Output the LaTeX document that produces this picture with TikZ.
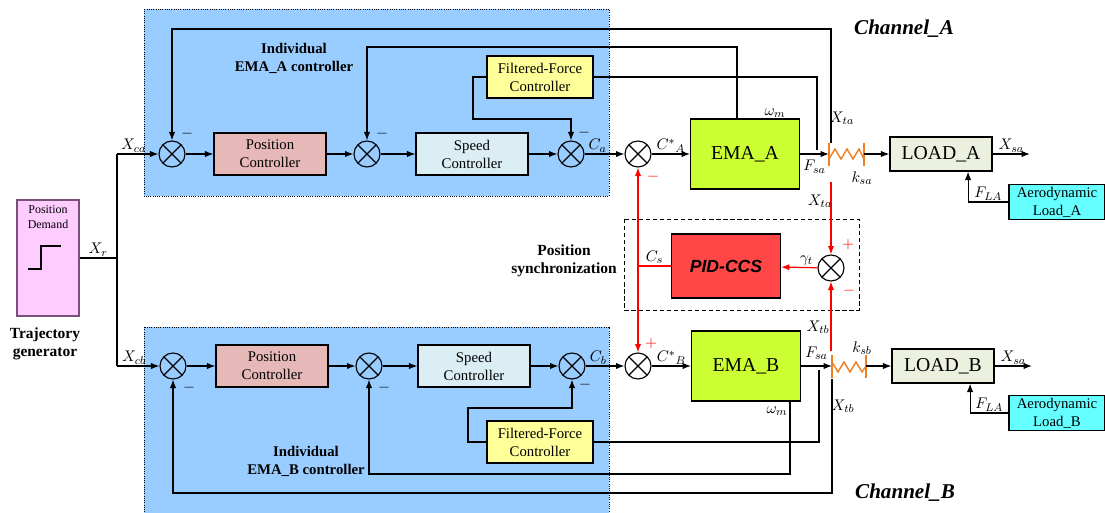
\documentclass[tikz,border=0pt]{standalone}
\usepackage{fontspec}
\setmainfont{Liberation Serif}
\newfontfamily\pidfont{Liberation Sans}
\usepackage{xcolor}
\usepackage{tikz}
\usetikzlibrary{arrows.meta, positioning}

\definecolor{ctrlblue}{RGB}{153,204,255}
\definecolor{posred}{RGB}{230,184,183}
\definecolor{spdblue}{RGB}{218,238,243}
\definecolor{ffyellow}{RGB}{255,255,153}
\definecolor{emagreen}{RGB}{204,255,51}
\definecolor{loadgreen}{RGB}{235,241,222}
\definecolor{aerocyan}{RGB}{102,255,255}
\definecolor{pidred}{RGB}{255,71,71}
\definecolor{demandpink}{RGB}{255,204,255}
\definecolor{demandedge}{RGB}{120,80,120}
\definecolor{springorange}{RGB}{240,127,31}

\tikzset{
  blk/.style={draw, align=center, minimum width=2.8cm, minimum height=1.05cm,
    inner sep=1pt, font=\fontsize{10.5}{12.8}\selectfont},
  sum/.style={circle, draw, minimum size=0.65cm, inner sep=0pt,
    path picture={\draw (path picture bounding box.north west) -- (path picture bounding box.south east)
      (path picture bounding box.south west) -- (path picture bounding box.north east);}},
  sig/.style={font=\fontsize{11}{13}\selectfont, inner sep=1pt},
  sgn/.style={font=\fontsize{11}{13}\selectfont, inner sep=0pt},
  ttl/.style={font=\bfseries\fontsize{10.5}{12.8}\selectfont, align=center},
  spr/.style={springorange, line width=1pt},
  fb/.style={red, line width=0.9pt},
}

\begin{document}
\begin{tikzpicture}[x=0.025cm, y=-0.025cm, line width=0.8pt, >={Latex[length=6pt,width=4.5pt]}]
  \useasboundingbox (0,0) rectangle (1105,513);

  % controller areas
  \draw[densely dotted, fill=ctrlblue, line width=0.6pt] (144,9) rectangle (609,196);
  \draw[densely dotted, fill=ctrlblue, line width=0.6pt] (144,327) rectangle (609,513);
  \draw[densely dashed, line width=0.6pt] (624,219) rectangle (859,310);

  % trajectory generator
  \node[draw=demandedge, fill=demandpink, minimum width=1.55cm, minimum height=2.9cm] (pd) at (48,258) {};
  \node[below=1pt of pd.north, align=center, font=\fontsize{8.5}{10.5}\selectfont] (pdt) {Position\\Demand};
  \draw (28,269) -- (41,269) -- (41,246) -- (61,246);
  \node[ttl, font=\bfseries\fontsize{11}{13}\selectfont] (tg) at (45,344) {Trajectory\\generator};

  % channel A
  \node[sum] (sA1) at (172,154) {};
  \node[blk, fill=posred] (pcA) at (270,154) {Position\\Controller};
  \node[sum] (sA2) at (367,154) {};
  \node[blk, fill=spdblue] (scA) at (472,154) {Speed\\Controller};
  \node[sum] (sA3) at (571,154) {};
  \node[blk, fill=ffyellow, minimum width=2.65cm] (ffA) at (540,77) {Filtered-Force\\Controller};
  \node[sum] (sA4) at (638,154) {};
  \node[blk, fill=emagreen, minimum width=2.72cm, minimum height=1.75cm, font=\fontsize{14}{16}\selectfont] (emaA) at (745,154) {EMA\_A};
  \node[blk, fill=loadgreen, minimum width=2.55cm, minimum height=0.85cm, font=\fontsize{14}{16}\selectfont] (loadA) at (941,154) {LOAD\_A};
  \node[blk, fill=aerocyan, minimum width=2.4cm, minimum height=0.875cm] (aeroA) at (1057,202) {Aerodynamic\\Load\_A};
  \node[ttl] (indA) at (294,58) {Individual\\EMA\_A controller};
  \node[font=\bfseries\itshape\fontsize{15}{17}\selectfont] (chA) at (904,29) {Channel\_A};

  % channel B
  \node[sum] (sB1) at (173,366) {};
  \node[blk, fill=posred] (pcB) at (272,366) {Position\\Controller};
  \node[sum] (sB2) at (369,366) {};
  \node[blk, fill=spdblue] (scB) at (474,366) {Speed\\Controller};
  \node[sum] (sB3) at (572,366) {};
  \node[blk, fill=ffyellow, minimum width=2.65cm] (ffB) at (540,442) {Filtered-Force\\Controller};
  \node[sum] (sB4) at (638,366) {};
  \node[blk, fill=emagreen, minimum width=2.72cm, minimum height=1.75cm, font=\fontsize{14}{16}\selectfont] (emaB) at (746,366) {EMA\_B};
  \node[blk, fill=loadgreen, minimum width=2.55cm, minimum height=0.85cm, font=\fontsize{14}{16}\selectfont] (loadB) at (943,366) {LOAD\_B};
  \node[blk, fill=aerocyan, minimum width=2.4cm, minimum height=0.875cm] (aeroB) at (1057,413) {Aerodynamic\\Load\_B};
  \node[ttl] (indB) at (306,461) {Individual\\EMA\_B controller};
  \node[font=\bfseries\itshape\fontsize{15}{17}\selectfont] (chB) at (905,493) {Channel\_B};

  % synchronization
  \node[sum] (sG) at (831,268) {};
  \node[draw, fill=pidred, minimum width=2.72cm, minimum height=1.6cm,
    font=\pidfont\bfseries\itshape\fontsize{12.5}{14}\selectfont] (pid) at (726,266) {PID-CCS};
  \node[ttl, font=\bfseries\fontsize{11}{12.8}\selectfont] (sync) at (564,261) {Position\\synchronization};

  % springs
  \coordinate (sprA) at (829,154);
  \coordinate (sprAr) at (864,154);
  \coordinate (sprB) at (832,366);
  \coordinate (sprBr) at (866,366);
  \draw[spr] (829,143) -- (829,166) (864,143) -- (864,166);
  \draw[spr] (829,159) -- (835,149) -- (841,159) -- (847,149) -- (853,159) -- (859,149) -- (864,159);
  \draw[spr] (832,355) -- (832,378) (866,355) -- (866,378);
  \draw[spr] (832,362) -- (838,372) -- (844,362) -- (850,372) -- (856,362) -- (862,372) -- (866,366);

  % reference input
  \coordinate (jR) at (117,258);
  \coordinate (jA) at (117,154);
  \coordinate (jB) at (117,366);
  \draw (pd.east) -- (jR) node[sig, midway, above] (lXr) {$X_r$};
  \draw (jA) -- (jB);
  \draw[->] (jA) -- (sA1) node[sig, pos=0.4, above] (lXca) {$X_{ca}$};
  \draw[->] (jB) -- (sB1) node[sig, pos=0.4, above] (lXcb) {$X_{cb}$};

  % forward path A
  \draw[->] (sA1) -- (pcA);
  \draw[->] (pcA) -- (sA2);
  \draw[->] (sA2) -- (scA);
  \draw[->] (scA) -- (sA3);
  \draw[->] (sA3) -- (sA4) node[sig, pos=0.33, above] (lCa) {$C_a$};
  \draw[->] (sA4) -- (emaA) node[sig, midway, above] (lCsA) {$C^{*}{}_{A}$};
  \draw[->] (emaA) -- (sprA) node[sig, midway, below=3pt] (lFsaA) {$F_{sa}$};
  \draw[->] (sprAr) -- (loadA);
  \coordinate (outA) at (1030,154);
  \draw[->] (loadA) -- (outA) node[sig, midway, above] (lXsaA) {$X_{sa}$};
  \draw[->] (aeroA.west) -| (loadA.-33) node[sig, pos=0.25, above] (lFlaA) {$F_{LA}$};

  % feedback A
  \coordinate (xtA) at (831,143);
  \coordinate (wmA) at (737,119);
  \coordinate (fsA) at (817,150);
  \draw[->] (xtA) -- (831,29) -| (sA1.north);
  \draw[->] (wmA) -- (737,47) -| (sA2.north);
  \draw (fsA) |- (ffA.east);
  \draw[->] (ffA.west) -| (473,119) -| (sA3.north);

  % forward path B
  \draw[->] (sB1) -- (pcB);
  \draw[->] (pcB) -- (sB2);
  \draw[->] (sB2) -- (scB);
  \draw[->] (scB) -- (sB3);
  \draw[->] (sB3) -- (sB4) node[sig, pos=0.33, above] (lCb) {$C_b$};
  \draw[->] (sB4) -- (emaB) node[sig, midway, above] (lCsB) {$C^{*}{}_{B}$};
  \draw[->] (emaB) -- (sprB) node[sig, midway, above=3pt] (lFsaB) {$F_{sa}$};
  \draw[->] (sprBr) -- (loadB);
  \coordinate (outB) at (1032,366);
  \draw[->] (loadB) -- (outB) node[sig, midway, above] (lXsaB) {$X_{sa}$};
  \draw[->] (aeroB.west) -| (loadB.-33) node[sig, pos=0.25, above] (lFlaB) {$F_{LA}$};

  % feedback B
  \coordinate (xtB) at (832,379);
  \coordinate (wmB) at (790,401);
  \coordinate (fsB) at (819,370);
  \draw[->] (xtB) -- (832,493) -| (sB1.south);
  \draw[->] (wmB) -- (790,474) -| (sB2.south);
  \draw (fsB) |- (ffB.east);
  \draw[->] (ffB.west) -| (468,408) -| (sB3.south);

  % synchronization loop
  \coordinate (xtA2) at (831,182);
  \coordinate (xtB2) at (831,351);
  \draw[fb, ->] (xtA2) -- (sG.north);
  \draw[fb, ->] (xtB2) -- (sG.south);
  \draw[fb, ->] (sG) -- (pid) node[sig, pos=0.3, above, text=black] (lgam) {$\gamma_t$};
  \draw[fb, <->] (sA4) -- (sB4);
  \draw[fb] (pid.west) -- (pid.west -| sA4) node[sig, midway, above, text=black] (lCs) {$C_s$};

  % signal labels
  \node[sig] (lXta1) at (842,118) {$X_{ta}$};
  \node[sig] (lXta2) at (820,201) {$X_{ta}$};
  \node[sig] (lXtb1) at (818,327) {$X_{tb}$};
  \node[sig] (lXtb2) at (843,406) {$X_{tb}$};
  \node[sig] (lksa) at (862,178) {$k_{sa}$};
  \node[sig] (lksb) at (862,348) {$k_{sb}$};
  \node[sig] (lwA) at (775,113) {$\omega_m$};
  \node[sig] (lwB) at (777,411) {$\omega_m$};

  % signs
  \node[sgn] (mA1) at (187,134) {$-$};
  \node[sgn] (mA2) at (382,134) {$-$};
  \node[sgn] (mA3) at (584,133) {$-$};
  \node[sgn, text=red] (mA4) at (653,177) {$-$};
  \node[sgn] (mB1) at (189,388) {$-$};
  \node[sgn] (mB2) at (384,388) {$-$};
  \node[sgn] (mB3) at (585,385) {$-$};
  \node[sgn, text=red] (pB4) at (651,344) {$+$};
  \node[sgn, text=red] (pG) at (848,245) {$+$};
  \node[sgn, text=red] (mG) at (849,291) {$-$};
\end{tikzpicture}
\end{document}
